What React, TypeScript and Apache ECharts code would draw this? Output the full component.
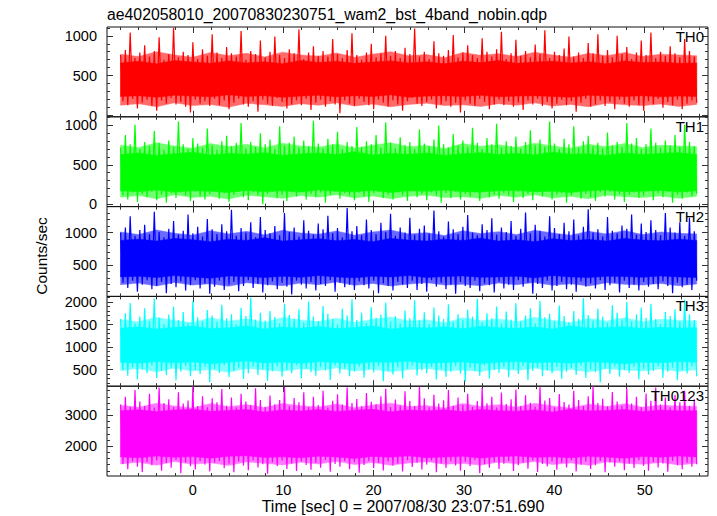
import React, { useEffect, useRef } from "react";
import * as echarts from "echarts";

const TITLE = "ae402058010_20070830230751_wam2_bst_4band_nobin.qdp";
const X_NAME = "Time [sec] 0 = 2007/08/30 23:07:51.690";
const Y_NAME = "Counts/sec";
const BAND_NAMES = ["TH0", "TH1", "TH2", "TH3", "TH0123"];
const BAND_COLORS = ["#ff0000", "#00ff00", "#0000ff", "#00ffff", "#ff00ff"];
const FRINGE_COLORS = ["#ff6a6a", "#70ff70", "#6a6aff", "#80ffff", "#ff7aff"];

// time grid of the light curve (uniform bins)
const T_START = -8.0;
const T_END = 55.75;

// axes
const X_MIN = -9.5;
const X_MAX = 57;
const X_MAJOR = [0, 10, 20, 30, 40, 50];
const X_MINOR = [-8, -6, -4, -2, 0, 2, 4, 6, 8, 10, 12, 14, 16, 18, 20, 22, 24, 26, 28, 30, 32, 34, 36, 38, 40, 42, 44, 46, 48, 50, 52, 54, 56];
const Y_MIN = [-15, -30, 20, 130, 1030];
const Y_MAX = [1110, 1110, 1400, 2125, 3945];
const Y_MAJOR = [
  [0, 500, 1000],
  [0, 500, 1000],
  [500, 1000],
  [500, 1000, 1500, 2000],
  [2000, 3000],
];
const Y_MINOR = [
  [0, 100, 200, 300, 400, 500, 600, 700, 800, 900, 1000, 1100],
  [0, 100, 200, 300, 400, 500, 600, 700, 800, 900, 1000, 1100],
  [100, 200, 300, 400, 500, 600, 700, 800, 900, 1000, 1100, 1200, 1300],
  [200, 300, 400, 500, 600, 700, 800, 900, 1000, 1100, 1200, 1300, 1400, 1500, 1600, 1700, 1800, 1900, 2000, 2100],
  [1200, 1400, 1600, 1800, 2000, 2200, 2400, 2600, 2800, 3000, 3200, 3400, 3600, 3800],
];

// counts/sec: extremes of the fast fluctuations (alternating peaks and troughs)
const TH0 = [
  760, 180, 820, 130, 1040, 210, 720, 90, 790, 160, 880, 200, 740, 120, 810, 60, 980, 190, 700, 150,
  770, 220, 1100, 140, 730, 170, 800, 110, 760, 40, 920, 200, 710, 150, 830, 180, 750, 120, 1020, 210,
  790, 130, 720, 190, 860, 80, 780, 160, 740, 210, 1060, 140, 700, 110, 810, 180, 770, 50, 940, 200,
  730, 150, 800, 120, 990, 220, 760, 170, 720, 90, 830, 140, 780, 190, 1080, 130, 710, 210, 790, 70,
  870, 160, 750, 200, 810, 110, 740, 180, 960, 140, 770, 30, 720, 190, 820, 150, 1030, 120, 760, 210,
  700, 170, 790, 130, 900, 80, 730, 200, 780, 160, 1000, 110, 750, 190, 810, 140, 720, 60, 850, 180,
  770, 220, 1090, 150, 740, 120, 800, 170, 710, 200, 930, 90, 780, 140, 750, 180, 820, 110, 1010, 160,
  730, 40, 790, 190, 880, 150, 760, 120, 720, 210, 970, 170, 800, 80, 740, 140, 830, 200, 1050, 130,
  710, 180, 780, 110, 950, 160, 750, 70, 810, 190, 730, 140, 890, 210, 770, 120, 1070, 170, 720, 90,
  800, 150, 760, 200, 840, 130, 990, 180, 740, 50, 790, 160, 720, 210, 910, 110, 780, 140, 1020, 190,
  750, 120, 820, 170, 730, 80, 1000, 200, 770, 150, 860, 110, 710, 190, 790, 130, 940, 60, 760, 180,
  1040, 140, 720, 210, 800, 100, 750, 170, 870, 130, 780, 200, 730, 80, 960, 150, 810, 190, 740, 160,
];
const TH1 = [
  720, 110, 880, 60, 760, 150, 1010, 30, 700, 130, 790, 90, 740, 160, 930, 50, 780, 120, 690, 20,
  810, 140, 730, 80, 1050, 150, 760, 110, 700, 40, 840, 160, 770, 100, 720, 60, 960, 130, 750, 170,
  690, 70, 800, 140, 870, 30, 740, 120, 780, 160, 1030, 90, 710, 50, 790, 150, 730, 110, 900, 0,
  760, 130, 820, 160, 700, 80, 990, 120, 750, 40, 780, 150, 860, 100, 720, 170, 810, 60, 740, 130,
  1060, 90, 770, 150, 710, 20, 830, 120, 760, 160, 920, 70, 700, 140, 790, 110, 740, 50, 980, 150,
  730, 100, 800, 30, 760, 140, 880, 160, 720, 80, 1040, 120, 780, 60, 710, 150, 850, 110, 750, 40,
  790, 170, 700, 90, 950, 130, 770, 50, 740, 150, 820, 110, 1000, 20, 760, 140, 720, 80, 890, 160,
  750, 60, 810, 130, 730, 100, 970, 150, 780, 40, 700, 170, 840, 90, 760, 120, 1020, 70, 720, 140,
  800, 110, 740, 30, 860, 160, 710, 80, 790, 130, 940, 50, 750, 150, 820, 100, 730, 170, 1050, 60,
  770, 120, 700, 140, 830, 20, 760, 110, 990, 160, 720, 70, 800, 130, 870, 90, 740, 40, 780, 150,
  710, 100, 910, 160, 750, 60, 790, 130, 730, 30, 1030, 120, 770, 150, 840, 80, 700, 110, 760, 170,
  960, 50, 780, 140, 720, 90, 810, 160, 750, 20, 880, 120, 730, 70, 1010, 150, 790, 100, 740, 130,
];
const TH2 = [
  1000, 230, 1080, 150, 1250, 260, 950, 90, 1040, 200, 1120, 270, 980, 130, 1320, 180, 1010, 240, 930, 70,
  1060, 210, 1180, 160, 970, 250, 1030, 110, 1280, 190, 990, 270, 1090, 140, 940, 220, 1210, 60, 1050, 170,
  980, 260, 1130, 120, 1020, 200, 1350, 240, 950, 100, 1070, 180, 1000, 270, 1160, 150, 930, 210, 1240, 80,
  1040, 190, 990, 250, 1100, 130, 960, 230, 1300, 170, 1010, 50, 1080, 260, 940, 200, 1190, 140, 1030, 240,
  970, 110, 1140, 210, 1050, 180, 1260, 270, 990, 90, 1070, 230, 930, 160, 1380, 200, 1020, 120, 1100, 250,
  960, 190, 1200, 140, 1040, 260, 980, 70, 1150, 220, 1010, 180, 1290, 110, 950, 240, 1080, 200, 1000, 150,
  1230, 260, 970, 120, 1060, 210, 1110, 90, 990, 270, 1340, 170, 1020, 230, 940, 130, 1170, 200, 1050, 60,
  980, 240, 1090, 180, 1270, 150, 1000, 260, 960, 100, 1130, 220, 1040, 190, 1220, 80, 970, 250, 1080, 140,
  1010, 200, 1180, 120, 950, 270, 1060, 170, 1310, 230, 990, 60, 1120, 210, 1030, 150, 940, 260, 1250, 110,
  1070, 180, 980, 240, 1150, 130, 1020, 200, 1200, 90, 960, 250, 1090, 170, 1360, 220, 1000, 140, 1050, 270,
  940, 120, 1240, 190, 1030, 230, 990, 80, 1110, 260, 1060, 150, 1280, 200, 970, 110, 1140, 240, 1010, 170,
  1190, 210, 1040, 130, 960, 250, 1300, 180, 1080, 70, 1000, 230, 1160, 160, 950, 200, 1230, 120, 1020, 260,
];
const TH3 = [
  1620, 480, 1750, 360, 1980, 550, 1530, 280, 1680, 500, 1860, 420, 1570, 590, 2080, 310, 1650, 470, 1510, 380,
  1720, 540, 1900, 260, 1600, 450, 1780, 580, 1540, 350, 2030, 490, 1660, 400, 1580, 560, 1820, 220, 1700, 510,
  1560, 430, 1940, 590, 1640, 330, 1730, 470, 1500, 540, 1870, 290, 1690, 410, 2100, 560, 1610, 380, 1760, 500,
  1590, 250, 1800, 460, 1670, 570, 1520, 340, 1960, 490, 1710, 420, 1630, 590, 1840, 300, 1550, 520, 2010, 440,
  1680, 360, 1580, 550, 1910, 480, 1740, 270, 1620, 590, 1500, 410, 1850, 520, 1700, 350, 2060, 460, 1600, 570,
  1760, 320, 1540, 500, 1890, 440, 1650, 580, 1720, 240, 1990, 470, 1570, 390, 1690, 550, 1530, 300, 1810, 510,
  1640, 590, 2040, 370, 1590, 480, 1770, 420, 1510, 560, 1880, 280, 1700, 500, 1620, 340, 1950, 450, 1560, 580,
  1730, 410, 1600, 230, 1830, 540, 1680, 470, 2070, 360, 1550, 590, 1750, 300, 1640, 490, 1900, 430, 1520, 550,
  1790, 330, 1610, 510, 1970, 400, 1570, 580, 1700, 260, 1860, 470, 1530, 540, 2020, 350, 1660, 480, 1740, 420,
  1580, 560, 1920, 290, 1690, 450, 1550, 530, 1800, 380, 1630, 590, 2090, 310, 1710, 500, 1590, 440, 1850, 210,
  1670, 520, 1540, 400, 1930, 570, 1760, 340, 1610, 490, 2000, 430, 1570, 560, 1720, 280, 1880, 510, 1650, 390,
  1960, 470, 1620, 580, 1510, 320, 1780, 450, 1690, 540, 1840, 260, 1580, 490, 2050, 410, 1730, 570, 1600, 350,
];
const TH0123 = [
  3350, 1420, 3600, 1250, 3280, 1500, 3820, 1330, 3450, 1160, 3300, 1480, 3700, 1380, 3250, 1530, 3900, 1200, 3400, 1450,
  3520, 1300, 3270, 1550, 3750, 1120, 3380, 1470, 3480, 1350, 3940, 1240, 3300, 1510, 3620, 1400, 3260, 1180, 3550, 1460,
  3420, 1520, 3850, 1280, 3310, 1430, 3580, 1150, 3260, 1500, 3700, 1370, 3450, 1220, 3330, 1540, 3880, 1310, 3500, 1410,
  3280, 1100, 3640, 1480, 3360, 1350, 3500, 1530, 3920, 1260, 3300, 1440, 3560, 1190, 3420, 1500, 3750, 1390, 3270, 1230,
  3600, 1460, 3330, 1300, 3800, 1540, 3250, 1170, 3470, 1420, 3680, 1330, 3350, 1510, 3900, 1250, 3400, 1480, 3530, 1140,
  3290, 1390, 3720, 1520, 3440, 1280, 3360, 1450, 3620, 1210, 3860, 1500, 3270, 1360, 3510, 1430, 3320, 1180, 3780, 1540,
  3460, 1320, 3300, 1470, 3930, 1240, 3550, 1400, 3260, 1530, 3670, 1150, 3380, 1440, 3490, 1290, 3820, 1510, 3310, 1370,
  3580, 1200, 3340, 1490, 3700, 1350, 3280, 1540, 3460, 1120, 3890, 1410, 3390, 1300, 3600, 1480, 3250, 1260, 3740, 1430,
  3370, 1520, 3520, 1190, 3840, 1380, 3300, 1460, 3650, 1270, 3410, 1530, 3280, 1160, 3910, 1420, 3480, 1340, 3560, 1500,
  3260, 1230, 3690, 1450, 3430, 1310, 3350, 1540, 3800, 1180, 3500, 1400, 3300, 1490, 3620, 1260, 3940, 1380, 3400, 1520,
  3540, 1150, 3290, 1470, 3760, 1330, 3450, 1500, 3320, 1220, 3870, 1430, 3380, 1290, 3600, 1540, 3270, 1360, 3710, 1200,
  3470, 1480, 3900, 1310, 3350, 1440, 3580, 1170, 3260, 1520, 3660, 1380, 3420, 1250, 3800, 1460, 3310, 1330, 3520, 1410,
];

// counts/sec: densely filled core of each light curve (lower / upper edge)
const TH0_CORE_LO = [240, 250, 230, 255, 245, 235, 260, 240, 250, 230, 245, 255, 235, 250, 240, 260, 230, 245, 250, 240, 255, 235, 245, 250, 240, 230, 255, 245, 240, 250, 235, 245, 240];
const TH0_CORE_HI = [660, 680, 650, 690, 670, 655, 685, 660, 675, 650, 690, 665, 680, 655, 670, 685, 660, 675, 650, 680, 665, 690, 655, 670, 680, 660, 675, 650, 685, 665, 670, 655, 660];
const TH1_CORE_LO = [170, 160, 180, 155, 170, 165, 150, 175, 160, 170, 155, 180, 165, 160, 175, 150, 170, 165, 180, 160, 155, 170, 175, 160, 165, 150, 170, 180, 160, 165, 175, 155, 170];
const TH1_CORE_HI = [630, 650, 620, 640, 660, 625, 645, 635, 655, 620, 640, 650, 630, 665, 625, 645, 635, 650, 620, 640, 655, 630, 645, 625, 660, 635, 640, 620, 650, 630, 645, 655, 630];
const TH2_CORE_LO = [320, 330, 310, 340, 320, 300, 335, 325, 310, 330, 315, 340, 320, 305, 330, 320, 340, 310, 325, 335, 315, 320, 330, 305, 340, 320, 310, 330, 325, 315, 335, 320, 310];
const TH2_CORE_HI = [880, 900, 870, 910, 890, 860, 900, 880, 920, 870, 890, 905, 875, 895, 860, 910, 885, 870, 900, 880, 915, 870, 890, 860, 905, 880, 895, 870, 910, 885, 875, 900, 880];
const TH3_CORE_LO = [660, 640, 680, 650, 670, 630, 660, 690, 645, 665, 640, 675, 655, 630, 670, 660, 685, 640, 655, 670, 635, 660, 680, 650, 665, 640, 675, 655, 630, 665, 650, 680, 660];
const TH3_CORE_HI = [1420, 1450, 1400, 1440, 1460, 1410, 1430, 1470, 1400, 1445, 1420, 1455, 1410, 1435, 1465, 1400, 1440, 1425, 1450, 1405, 1460, 1430, 1415, 1445, 1400, 1470, 1420, 1435, 1450, 1410, 1440, 1425, 1430];
const TH0123_CORE_LO = [1650, 1620, 1680, 1640, 1660, 1610, 1670, 1690, 1630, 1655, 1620, 1675, 1645, 1600, 1665, 1640, 1685, 1625, 1650, 1670, 1615, 1660, 1680, 1635, 1655, 1620, 1670, 1645, 1610, 1660, 1640, 1680, 1650];
const TH0123_CORE_HI = [3150, 3180, 3120, 3170, 3200, 3130, 3160, 3190, 3110, 3175, 3140, 3185, 3125, 3165, 3195, 3115, 3170, 3145, 3180, 3120, 3190, 3150, 3135, 3175, 3110, 3200, 3140, 3160, 3185, 3125, 3170, 3145, 3150];

// counts/sec: outer, partly covered fringe (lower / upper edge)
const TH0_OUT_LO = [130, 150, 110, 160, 125, 140, 105, 155, 135, 115, 150, 130, 160, 120, 145, 110, 140, 155, 125, 135, 115, 150, 130, 160, 120, 140, 110, 155, 135, 125, 145, 115, 140];
const TH0_OUT_HI = [770, 740, 800, 760, 730, 790, 750, 780, 735, 795, 760, 745, 785, 730, 770, 800, 750, 765, 725, 790, 755, 775, 740, 795, 760, 730, 780, 750, 790, 740, 770, 760, 750];
const TH1_OUT_LO = [90, 110, 70, 120, 85, 100, 65, 115, 95, 75, 110, 90, 120, 80, 105, 70, 100, 115, 85, 95, 75, 110, 90, 120, 80, 100, 70, 115, 95, 85, 105, 75, 100];
const TH1_OUT_HI = [750, 720, 780, 740, 710, 770, 730, 760, 715, 775, 740, 725, 765, 710, 750, 780, 730, 745, 705, 770, 735, 755, 720, 775, 740, 710, 760, 730, 770, 720, 750, 740, 730];
const TH2_OUT_LO = [200, 225, 180, 235, 195, 215, 175, 230, 205, 185, 225, 200, 240, 190, 220, 180, 210, 230, 195, 205, 185, 225, 200, 235, 190, 215, 180, 230, 205, 195, 220, 185, 210];
const TH2_OUT_HI = [1010, 970, 1040, 990, 960, 1030, 980, 1020, 965, 1035, 995, 975, 1025, 960, 1010, 1040, 980, 1000, 955, 1030, 985, 1015, 970, 1035, 995, 960, 1020, 980, 1030, 970, 1010, 990, 980];
const TH3_OUT_LO = [480, 520, 450, 530, 470, 500, 440, 525, 490, 460, 515, 480, 535, 465, 505, 450, 495, 525, 470, 490, 455, 515, 480, 530, 465, 500, 445, 520, 490, 470, 510, 455, 495];
const TH3_OUT_HI = [1610, 1560, 1660, 1590, 1540, 1650, 1575, 1630, 1550, 1655, 1600, 1565, 1640, 1545, 1615, 1665, 1580, 1605, 1535, 1650, 1585, 1625, 1560, 1660, 1595, 1540, 1635, 1580, 1650, 1560, 1615, 1595, 1580];
const TH0123_OUT_LO = [1420, 1480, 1380, 1500, 1410, 1460, 1370, 1490, 1440, 1390, 1475, 1420, 1505, 1400, 1465, 1380, 1450, 1495, 1410, 1435, 1385, 1480, 1425, 1500, 1400, 1455, 1375, 1490, 1440, 1410, 1470, 1390, 1445];
const TH0123_OUT_HI = [3330, 3260, 3390, 3300, 3240, 3380, 3280, 3350, 3250, 3385, 3310, 3270, 3365, 3245, 3335, 3395, 3285, 3315, 3235, 3380, 3290, 3345, 3265, 3390, 3305, 3240, 3360, 3285, 3375, 3265, 3330, 3300, 3290];

const BAND_VALUES = [TH0, TH1, TH2, TH3, TH0123];
const CORE_LO = [TH0_CORE_LO, TH1_CORE_LO, TH2_CORE_LO, TH3_CORE_LO, TH0123_CORE_LO];
const CORE_HI = [TH0_CORE_HI, TH1_CORE_HI, TH2_CORE_HI, TH3_CORE_HI, TH0123_CORE_HI];
const OUT_LO = [TH0_OUT_LO, TH1_OUT_LO, TH2_OUT_LO, TH3_OUT_LO, TH0123_OUT_LO];
const OUT_HI = [TH0_OUT_HI, TH1_OUT_HI, TH2_OUT_HI, TH3_OUT_HI, TH0123_OUT_HI];

const FONT = '"Liberation Sans", Arial, Helvetica, sans-serif';
const TICK_COLOR = "#333";
const W = 717;
const H = 516;
const GRID_LEFT = 107;
const GRID_RIGHT = 9;
const GRID_TOP = 27;
const GRID_BOTTOM_Y = 476;

const timeOf = (i: number, n: number) => T_START + (i * (T_END - T_START)) / (n - 1);

function bandSeries(g: number, lo: number[], hi: number[], fill: string, z: number) {
  const n = lo.length;
  return {
    type: "custom",
    xAxisIndex: g * 4,
    yAxisIndex: g * 4,
    coordinateSystem: "cartesian2d",
    clip: true,
    silent: true,
    z,
    data: lo.map((v, i) => [timeOf(i, n), v, hi[i]]),
    encode: { x: 0, y: [1, 2] },
    renderItem: (params: any, api: any) => {
      if (params.dataIndex !== 0) return null;
      const pts: number[][] = [];
      for (let i = 0; i < n; i++) pts.push(api.coord([timeOf(i, n), hi[i]]));
      for (let i = n - 1; i >= 0; i--) pts.push(api.coord([timeOf(i, n), lo[i]]));
      return {
        type: "polygon",
        shape: { points: pts },
        style: { fill, stroke: fill, lineWidth: 0.5 },
      };
    },
  };
}

function buildOption() {
  const panelH = (GRID_BOTTOM_Y - GRID_TOP) / 5;
  const grids: any[] = [];
  const xAxes: any[] = [];
  const yAxes: any[] = [];
  const series: any[] = [];
  const graphics: any[] = [];
  const fmt = (v: number) => String(v);

  for (let g = 0; g < 5; g++) {
    const top = GRID_TOP + g * panelH;
    grids.push({
      left: GRID_LEFT,
      right: GRID_RIGHT,
      top,
      height: panelH,
      show: true,
      borderColor: "#111",
      borderWidth: 1,
      backgroundColor: "transparent",
      containLabel: false,
    });
    const xBase = {
      type: "value",
      gridIndex: g,
      min: X_MIN,
      max: X_MAX,
      splitLine: { show: false },
      axisLine: { show: false, onZero: false },
    };
    const mk = (position: string, values: number[], len: number, label: boolean) => ({
      ...xBase,
      position,
      axisTick: { show: true, inside: true, length: len, customValues: values, lineStyle: { color: TICK_COLOR, width: 1 } },
      axisLabel: label
        ? { show: true, customValues: X_MAJOR, formatter: fmt, margin: 6, fontSize: 14.5, color: "#000", fontFamily: FONT }
        : { show: false },
    });
    xAxes.push(mk("bottom", X_MAJOR, 6, g === 4));
    xAxes.push(mk("bottom", X_MINOR, 3, false));
    xAxes.push(mk("top", X_MAJOR, 6, false));
    xAxes.push(mk("top", X_MINOR, 3, false));

    const yBase = {
      type: "value",
      gridIndex: g,
      min: Y_MIN[g],
      max: Y_MAX[g],
      splitLine: { show: false },
      axisLine: { show: false, onZero: false },
    };
    const mky = (position: string, values: number[], len: number, label: boolean) => ({
      ...yBase,
      position,
      axisTick: { show: true, inside: true, length: len, customValues: values, lineStyle: { color: TICK_COLOR, width: 1 } },
      axisLabel: label
        ? { show: true, customValues: Y_MAJOR[g], formatter: fmt, margin: 10, fontSize: 14.5, color: "#000", fontFamily: FONT }
        : { show: false },
    });
    yAxes.push(mky("left", Y_MAJOR[g], 6, true));
    yAxes.push(mky("left", Y_MINOR[g], 3, false));
    yAxes.push(mky("right", Y_MAJOR[g], 6, false));
    yAxes.push(mky("right", Y_MINOR[g], 3, false));

    const color = BAND_COLORS[g];
    series.push(bandSeries(g, OUT_LO[g], OUT_HI[g], FRINGE_COLORS[g], 1));
    series.push(bandSeries(g, CORE_LO[g], CORE_HI[g], color, 2));

    const vals = BAND_VALUES[g];
    series.push({
      type: "line",
      name: BAND_NAMES[g],
      xAxisIndex: g * 4,
      yAxisIndex: g * 4,
      data: vals.map((v, i) => [timeOf(i, vals.length), v]),
      showSymbol: false,
      symbol: "none",
      clip: true,
      silent: true,
      lineStyle: { color, width: 1.2, join: "miter" },
      itemStyle: { color },
      z: 3,
    });

    graphics.push({
      type: "text",
      right: GRID_RIGHT + 4,
      top: top + 2,
      z: 100,
      style: { text: BAND_NAMES[g], fill: "#000", font: `15px ${FONT}` },
    });
  }

  graphics.push({
    type: "text",
    left: GRID_LEFT,
    top: 6,
    style: { text: TITLE, fill: "#000", font: `15.8px ${FONT}` },
  });
  graphics.push({
    type: "text",
    x: 403,
    y: 506,
    style: { text: X_NAME, fill: "#000", font: `16px ${FONT}`, textAlign: "center", textVerticalAlign: "middle" },
  });
  graphics.push({
    type: "text",
    x: 41,
    y: 256,
    rotation: Math.PI / 2,
    style: { text: Y_NAME, fill: "#000", font: `15.5px ${FONT}`, textAlign: "center", textVerticalAlign: "middle" },
  });

  return {
    animation: false,
    backgroundColor: "#fff",
    grid: grids,
    xAxis: xAxes,
    yAxis: yAxes,
    series,
    graphic: graphics,
  };
}

export default function App() {
  const ref = useRef<HTMLDivElement>(null);
  useEffect(() => {
    if (!ref.current) return;
    const chart = echarts.init(ref.current, undefined, { renderer: "svg" });
    chart.setOption(buildOption() as any);
    return () => chart.dispose();
  }, []);
  return (
    <div
      ref={ref}
      style={{ position: "fixed", left: 0, top: 0, width: W, height: H, background: "#fff" }}
    />
  );
}
